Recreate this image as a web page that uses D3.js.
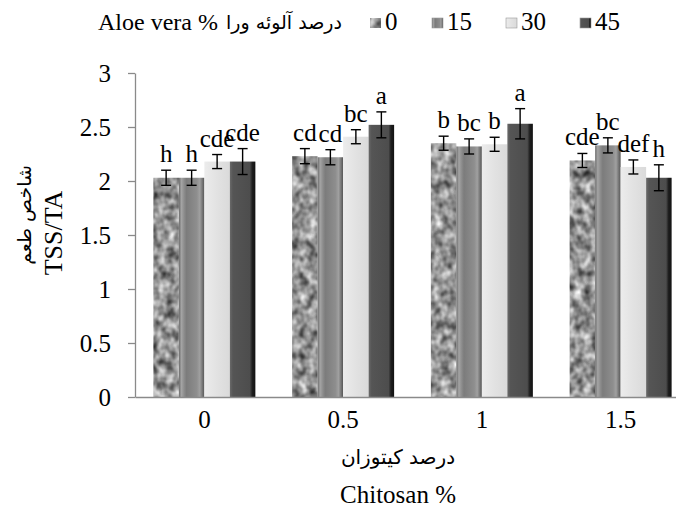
<!DOCTYPE html>
<html>
<head>
<meta charset="utf-8">
<script src="https://cdn.jsdelivr.net/npm/d3@7"></script>
<style>
	body { margin: 0; background: #fff; }
</style>
</head>
<body>
<script>
//chart data
var chitosan = ["0", "0.5", "1", "1.5"];
var aloe = ["0", "15", "30", "45"];

var tssAloe0  = [2.03, 2.23, 2.35, 2.19];
var tssAloe15 = [2.03, 2.22, 2.32, 2.33];
var tssAloe30 = [2.18, 2.41, 2.34, 2.13];
var tssAloe45 = [2.18, 2.52, 2.53, 2.03];

var errAloe0  = [0.07, 0.07, 0.065, 0.065];
var errAloe15 = [0.07, 0.07, 0.07, 0.07];
var errAloe30 = [0.065, 0.065, 0.065, 0.065];
var errAloe45 = [0.12, 0.12, 0.14, 0.12];

var grpAloe0  = ["h", "cd", "b", "cde"];
var grpAloe15 = ["h", "cd", "bc", "bc"];
var grpAloe30 = ["cde", "bc", "b", "def"];
var grpAloe45 = ["cde", "a", "a", "h"];

var yTicks = [0, 0.5, 1, 1.5, 2, 2.5, 3];

var serif = "'Liberation Serif', 'Times New Roman', serif",
	persian = "'DejaVu Sans', sans-serif";

window.onload = drawChart();

function drawChart(){

	var width = 676,
		height = 509;

	var svg = d3.select("body")
		.append("svg")
		.attr("width", width)
		.attr("height", height);

	//fills for the four series
	var defs = svg.append("defs");

	//mottled "granite" texture for 0%
	var granite = defs.append("filter")
		.attr("id", "granite")
		.attr("color-interpolation-filters", "sRGB")
		.attr("x", 0).attr("y", 0).attr("width", 1).attr("height", 1);
	granite.append("feTurbulence")
		.attr("type", "fractalNoise")
		.attr("baseFrequency", "0.12 0.1")
		.attr("numOctaves", 2)
		.attr("seed", 7)
		.attr("result", "noise");
	granite.append("feColorMatrix")
		.attr("in", "noise")
		.attr("type", "matrix")
		.attr("values", "1.05 0 0 0 0.05  1.05 0 0 0 0.05  1.05 0 0 0 0.05  0 0 0 0 1")
		.attr("result", "grey");
	granite.append("feComposite")
		.attr("in", "grey")
		.attr("in2", "SourceGraphic")
		.attr("operator", "in");

	function gradient(id, stops){
		var g = defs.append("linearGradient")
			.attr("id", id)
			.attr("x1", "0%").attr("x2", "100%")
			.attr("y1", "0%").attr("y2", "0%");
		stops.forEach(function(s){
			g.append("stop").attr("offset", s[0]).attr("stop-color", s[1]);
		});
	}
	gradient("g15", [["0%", "#6c6c6c"], ["10%", "#a4a4a4"], ["22%", "#8a8a8a"], ["30%", "#7c7c7c"], ["70%", "#8e8e8e"], ["82%", "#a0a0a0"], ["100%", "#555"]]);
	gradient("g30", [["0%", "#ececec"], ["50%", "#e2e2e2"], ["100%", "#dadada"]]);
	gradient("g45", [["0%", "#6a6a6a"], ["12%", "#555"], ["78%", "#4d4d4d"], ["88%", "#1e1e1e"], ["100%", "#111"]]);

	var fills = ["#8c8c8c", "url(#g15)", "url(#g30)", "url(#g45)"];
	var filters = ["url(#granite)", null, null, null];

	//scales
	var x0 = d3.scaleBand()
		.domain(chitosan)
		.range([135, 690])
		.paddingInner(0.265)
		.paddingOuter(0.1325);

	var x1 = d3.scaleBand()
		.domain(aloe)
		.range([0, x0.bandwidth()]);

	var y = d3.scaleLinear()
		.domain([0, 3])
		.range([397, 73]);

	//table built from the arrays
	var vals = [tssAloe0, tssAloe15, tssAloe30, tssAloe45],
		errs = [errAloe0, errAloe15, errAloe30, errAloe45],
		grps = [grpAloe0, grpAloe15, grpAloe30, grpAloe45];

	var rows = [];
	chitosan.forEach(function(c, i){
		aloe.forEach(function(a, j){
			rows.push({c: c, a: a, s: j, v: vals[j][i], e: errs[j][i], g: grps[j][i]});
		});
	});

	//y axis
	var yAxis = svg.append("g")
		.attr("transform", "translate(135,0)")
		.call(d3.axisLeft(y).tickValues(yTicks).tickFormat(d3.format("")).tickSize(7).tickSizeOuter(0).tickPadding(17));
	yAxis.selectAll("path, line").attr("stroke", "#8a8a8a").attr("stroke-width", 1.3);
	yAxis.selectAll("text").style("font-size", "25px").style("font-family", serif).attr("fill", "#000");

	//bars
	var bars = svg.selectAll(".bar")
		.data(rows)
		.enter()
		.append("rect")
		.attr("class", "bar")
		.attr("x", function(d){ return x0(d.c) + x1(d.a); })
		.attr("y", function(d){ return y(d.v); })
		.attr("width", x1.bandwidth())
		.attr("height", function(d){ return y(0) - y(d.v); })
		.attr("fill", function(d){ return fills[d.s]; })
		.attr("filter", function(d){ return filters[d.s]; });

	//x axis (baseline only, no ticks)
	var xAxis = svg.append("g")
		.attr("transform", "translate(0,397)")
		.call(d3.axisBottom(x0).tickSize(0).tickPadding(13));
	xAxis.select("path").attr("stroke", "#8a8a8a").attr("stroke-width", 1.5);
	xAxis.selectAll("text").style("font-size", "25px").style("font-family", serif).attr("fill", "#000");

	//error bars
	var cap = 5;
	var err = svg.selectAll(".err")
		.data(rows)
		.enter()
		.append("g")
		.attr("class", "err")
		.attr("stroke", "#000")
		.attr("stroke-width", 1.4)
		.attr("transform", function(d){ return "translate(" + (x0(d.c) + x1(d.a) + x1.bandwidth() / 2) + ",0)"; });
	err.append("line")
		.attr("y1", function(d){ return y(d.v + d.e); })
		.attr("y2", function(d){ return y(d.v - d.e); });
	err.append("line")
		.attr("x1", -cap).attr("x2", cap)
		.attr("y1", function(d){ return y(d.v + d.e); })
		.attr("y2", function(d){ return y(d.v + d.e); });
	err.append("line")
		.attr("x1", -cap).attr("x2", cap)
		.attr("y1", function(d){ return y(d.v - d.e); })
		.attr("y2", function(d){ return y(d.v - d.e); });

	//significance letters
	svg.selectAll(".grp")
		.data(rows)
		.enter()
		.append("text")
		.attr("class", "grp")
		.attr("x", function(d){ return x0(d.c) + x1(d.a) + x1.bandwidth() / 2; })
		.attr("y", function(d){ return y(d.v + d.e) - 8; })
		.attr("text-anchor", "middle")
		.style("font-family", serif)
		.style("font-size", "25px")
		.text(function(d){ return d.g; });

	//legend
	svg.append("text")
		.attr("x", 98)
		.attr("y", 30)
		.style("font-family", serif)
		.style("font-size", "24px")
		.text("Aloe vera %");
	svg.append("text")
		.attr("x", 284)
		.attr("y", 29)
		.attr("text-anchor", "middle")
		.style("font-family", persian)
		.style("font-size", "19px")
		.text("درصد آلوئه ورا");

	var legendX = [370, 432, 506, 580];
	var legend = svg.selectAll(".legend")
		.data(aloe)
		.enter()
		.append("g")
		.attr("class", "legend")
		.attr("transform", function(d, i){ return "translate(" + legendX[i] + ",0)"; });
	legend.append("rect")
		.attr("y", 18)
		.attr("width", 11)
		.attr("height", 10)
		.attr("stroke", "#999")
		.attr("stroke-width", 0.6)
		.attr("fill", function(d, i){ return fills[i]; })
		.attr("filter", function(d, i){ return filters[i]; });
	legend.append("text")
		.attr("x", 15)
		.attr("y", 30)
		.style("font-family", serif)
		.style("font-size", "25px")
		.text(function(d){ return d; });

	//axis titles
	svg.append("text")
		.attr("transform", "translate(31,215) rotate(-90)")
		.attr("text-anchor", "middle")
		.style("font-family", persian)
		.style("font-size", "19px")
		.text("شاخص طعم");
	svg.append("text")
		.attr("transform", "translate(62,233) rotate(-90)")
		.attr("text-anchor", "middle")
		.style("font-family", serif)
		.style("font-size", "26px")
		.text("TSS/TA");

	svg.append("text")
		.attr("x", 398)
		.attr("y", 464)
		.attr("text-anchor", "middle")
		.style("font-family", persian)
		.style("font-size", "20px")
		.text("درصد کیتوزان");
	svg.append("text")
		.attr("x", 398)
		.attr("y", 503)
		.attr("text-anchor", "middle")
		.style("font-family", serif)
		.style("font-size", "25px")
		.text("Chitosan %");
};
</script>
</body>
</html>
